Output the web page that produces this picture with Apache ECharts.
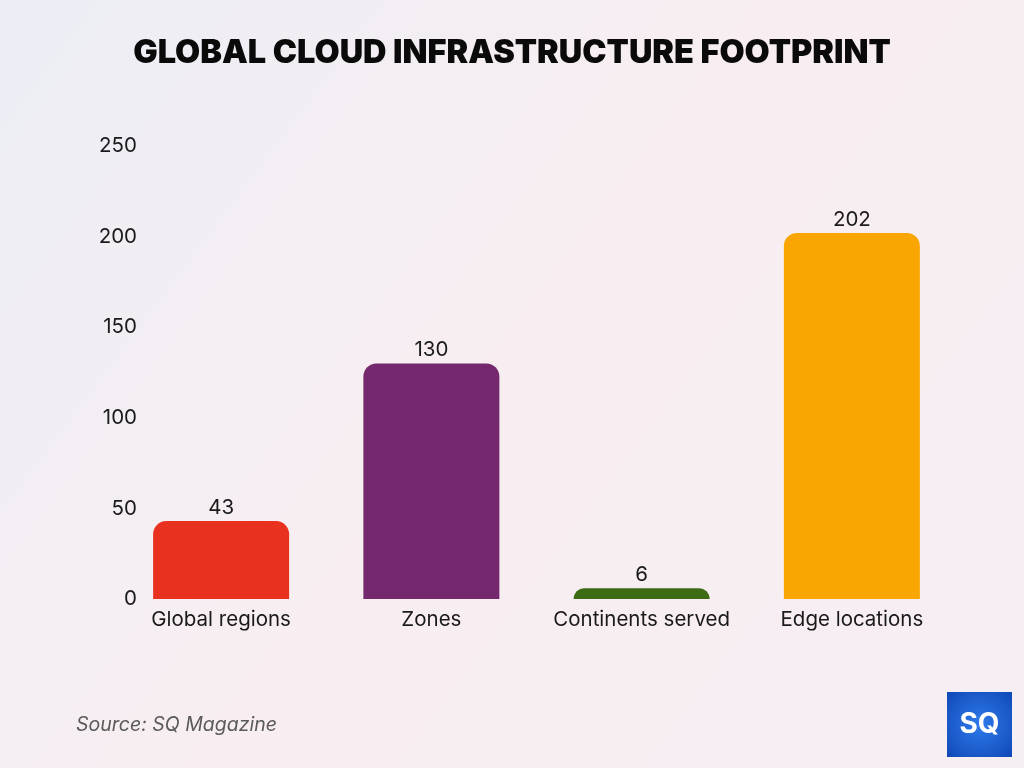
<!DOCTYPE html>
<html>
<head>
<meta charset="utf-8">
<script src="https://cdn.jsdelivr.net/npm/echarts@6/dist/echarts.min.js"></script>
<style>
  html, body { margin: 0; padding: 0; }
  #chart { width: 1024px; height: 768px; }
</style>
</head>
<body>
<div id="chart"></div>
<script>
// data
var categories = ['Global regions', 'Zones', 'Continents served', 'Edge locations'];
var values = [43, 130, 6, 202];
var barColors = ['#E8321F', '#74296E', '#3D6B14', '#F9A602'];
var yTicks = [0, 50, 100, 150, 200, 250];

var myChart = echarts.init(document.getElementById('chart'));

var option = {
    animation: false,
    backgroundColor: {
        type: 'linear', x: 0, y: 0, x2: 1, y2: 1,
        colorStops: [
            { offset: 0, color: '#eceef5' },
            { offset: 0.5, color: '#f8eef1' },
            { offset: 1, color: '#f5eef3' }
        ]
    },
    title: {
        text: 'GLOBAL CLOUD INFRASTRUCTURE FOOTPRINT',
        left: 'center',
        top: 32,
        textStyle: {
            fontFamily: 'Inter',
            fontWeight: 900,
            fontSize: 32.5,
            color: '#0a0a0a'
        }
    },
    grid: {
        left: 116,
        right: 67,
        top: 146,
        bottom: 169
    },
    xAxis: {
        type: 'category',
        data: categories,
        axisLine: { show: false },
        axisTick: { show: false },
        axisLabel: {
            interval: 0,
            fontFamily: 'Inter',
            fontSize: 20.5,
            color: '#1a1a1a',
            margin: 10
        }
    },
    yAxis: {
        type: 'value',
        min: yTicks[0],
        max: yTicks[yTicks.length - 1],
        interval: 50,
        splitLine: { show: false },
        axisLine: { show: false },
        axisTick: { show: false },
        axisLabel: {
            fontFamily: 'Inter',
            fontSize: 20.5,
            color: '#1a1a1a',
            margin: -21,
            align: 'right',
            padding: [4, 0, 0, 0]
        }
    },
    series: [{
        type: 'bar',
        barWidth: 136,
        data: values.map(function (v, i) {
            return { value: v, itemStyle: { color: barColors[i] } };
        }),
        itemStyle: { borderRadius: [13, 13, 0, 0] },
        label: {
            show: true,
            position: 'top',
            distance: 3,
            fontFamily: 'Inter',
            fontSize: 20.5,
            color: '#1a1a1a'
        }
    }],
    graphic: [
        {
            type: 'text',
            left: 76,
            top: 715,
            style: {
                text: 'Source: SQ Magazine',
                font: 'italic 19.5px Inter',
                fill: '#5a5a5a'
            }
        },
        {
            type: 'group',
            left: 947,
            top: 692,
            children: [
                {
                    type: 'rect',
                    shape: { x: 0, y: 0, width: 65, height: 65 },
                    style: {
                        fill: {
                            type: 'radial', x: 0.5, y: 0.5, r: 0.7,
                            colorStops: [
                                { offset: 0, color: '#2f7bea' },
                                { offset: 1, color: '#1048b8' }
                            ]
                        }
                    }
                },
                {
                    type: 'text',
                    style: {
                        x: 32.5, y: 33,
                        text: 'SQ',
                        font: 'bold 28px Inter',
                        fill: '#ffffff',
                        align: 'center',
                        verticalAlign: 'middle'
                    }
                }
            ]
        }
    ]
};

myChart.setOption(option);
</script>
</body>
</html>
